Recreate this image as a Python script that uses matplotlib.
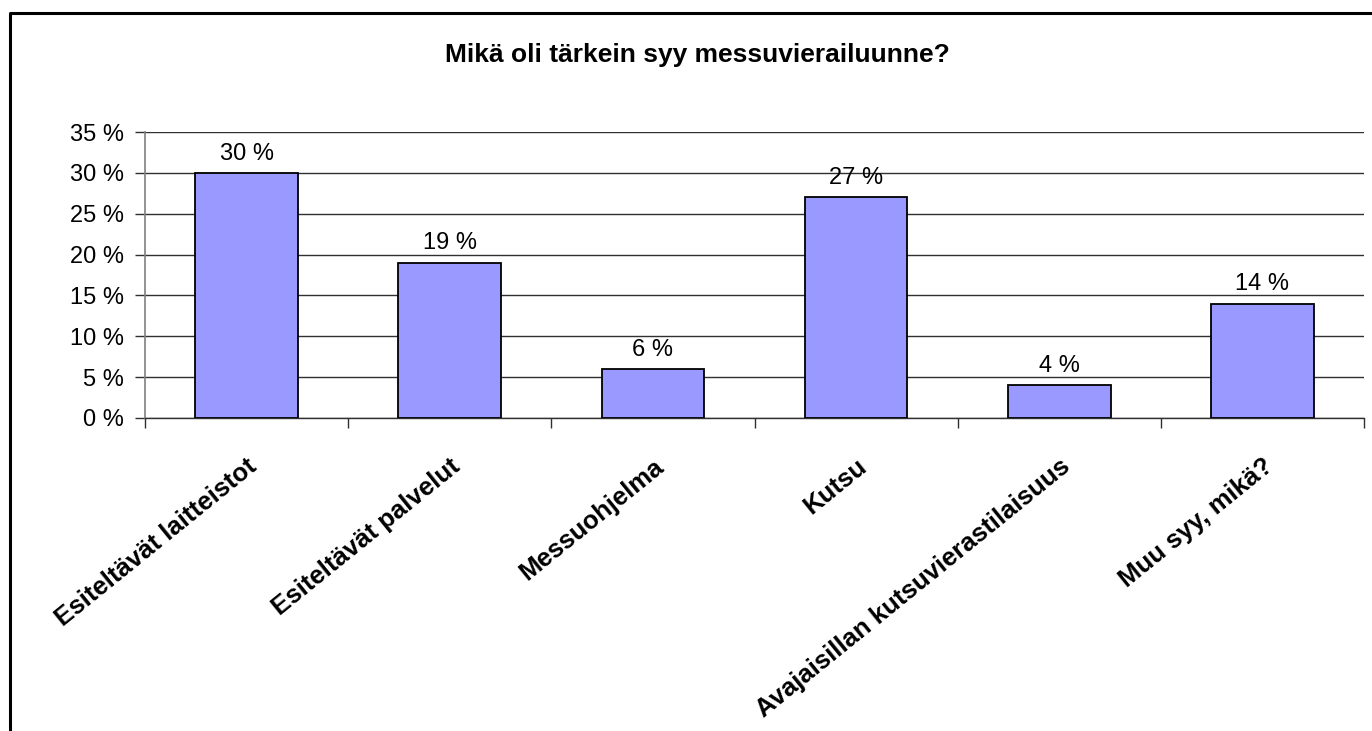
import matplotlib.pyplot as plt
from matplotlib.lines import Line2D
from matplotlib.ticker import FixedLocator, FuncFormatter

# Data
categories = ['Esiteltävät laitteistot', 'Esiteltävät palvelut', 'Messuohjelma',
              'Kutsu', 'Avajaisillan kutsuvierastilaisuus', 'Muu syy, mikä?']
shares = [30, 19, 6, 27, 4, 14]
title = 'Mikä oli tärkein syy messuvierailuunne?'

plt.rcParams['font.family'] = ['Liberation Sans', 'DejaVu Sans']

fig = plt.figure(figsize=(13.72, 7.31), dpi=100)
ax = fig.add_axes([0.1057, 0.4282, 0.8885, 0.3912])

x = list(range(len(categories)))
ax.bar(x, shares, width=0.505, color='#9999FF', edgecolor='black',
       linewidth=1.3, zorder=3)

# Value labels above bars
for xi, v in zip(x, shares):
    ax.annotate(f'{v} %', (xi, v), xytext=(0, 6), textcoords='offset points',
                ha='center', va='bottom', fontsize=17)

ax.set_xlim(-0.5, len(categories) - 0.5)
ax.set_ylim(0, 35)
ax.set_yticks(range(0, 36, 5))
ax.yaxis.set_major_formatter(FuncFormatter(lambda y, _: f'{y:.0f} %'))
ax.grid(True, axis='y', color='#303030', linewidth=1.0, zorder=0)

# Category labels at centers, tick marks at boundaries
ax.set_xticks(x)
ax.set_xticklabels(categories, rotation=39, ha='right', rotation_mode='anchor',
                   fontsize=18.5, fontweight='bold')
ax.tick_params(axis='x', which='major', length=0, pad=26)
ax.xaxis.set_minor_locator(FixedLocator([i - 0.5 for i in range(len(categories) + 1)]))
ax.tick_params(axis='x', which='minor', length=7, width=1, color='#303030',
               direction='out')
ax.tick_params(axis='y', length=7, width=1, color='#303030', direction='out',
               labelsize=17, pad=8)

for side in ['top', 'right']:
    ax.spines[side].set_visible(False)
ax.spines['left'].set_color('#808080')
ax.spines['left'].set_linewidth(1.2)
ax.spines['bottom'].set_color('#303030')
ax.spines['bottom'].set_linewidth(1.0)

fig.text(697 / 1372, 1 - 62 / 731, title, ha='center', va='baseline',
         fontsize=19, fontweight='bold')

# Outer chart frame (left and top edges visible)
fig.add_artist(Line2D([10 / 1372, 10 / 1372, 1.0], [0.0, 1 - 13 / 731, 1 - 13 / 731],
                      transform=fig.transFigure, color='black', linewidth=2.2))

fig.savefig('out.png', dpi=100)
